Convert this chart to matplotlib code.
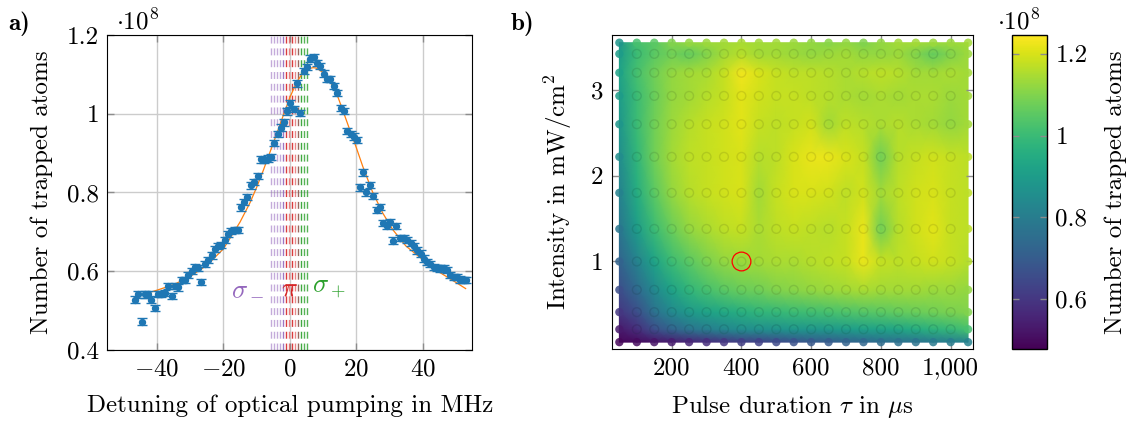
import numpy as np
import matplotlib
matplotlib.use('Agg')
import matplotlib.pyplot as plt

plt.rcParams['font.family'] = ['cmr10', 'DejaVu Serif']
plt.rcParams['mathtext.fontset'] = 'cm'
plt.rcParams['axes.formatter.use_mathtext'] = True
plt.rcParams['font.size'] = 18
plt.rcParams['axes.unicode_minus'] = True

# --- panel a) data: detuning scan ---
detuning = [-46.7, -45.7, -44.7, -43.7, -42.7, -41.7, -40.7, -39.7, -38.7, -37.6,
            -36.6, -35.6, -34.6, -33.6, -32.6, -31.6, -30.6, -29.6, -28.6, -27.6,
            -26.8, -25.6, -24.6, -23.6, -22.6, -21.6, -20.6, -19.6, -18.6, -17.6,
            -16.6, -15.7, -14.8, -13.8, -12.8, -11.7, -10.7, -9.7, -8.7, -7.7,
            -6.7, -5.7, -4.7, -3.7, -2.7, -1.8, -0.8, 0.2, 1.2, 2.2,
            3.2, 4.2, 5.1, 6.2, 7.2, 8.2, 9.2, 10.2, 11.2, 12.2,
            13.3, 14.3, 15.3, 16.3, 17.3, 18.3, 19.3, 20.2, 21.2, 22.1,
            23.1, 24.1, 25.1, 26.2, 27.1, 28.2, 29.3, 30.1, 31.1, 32.1,
            33.3, 34.3, 35.3, 36.4, 37.3, 38.3, 39.4, 40.4, 41.4, 42.4,
            43.4, 44.4, 45.4, 46.4, 47.4, 48.4, 49.4, 50.4, 51.4, 52.4, 53.2]
atoms = [0.528, 0.541, 0.472, 0.541, 0.541, 0.528, 0.507, 0.542, 0.543, 0.545,
         0.562, 0.537, 0.562, 0.559, 0.577, 0.577, 0.590, 0.601, 0.611, 0.608,
         0.573, 0.619, 0.628, 0.640, 0.657, 0.664, 0.667, 0.680, 0.695, 0.702,
         0.704, 0.705, 0.762, 0.776, 0.788, 0.818, 0.826, 0.842, 0.884, 0.883,
         0.886, 0.891, 0.926, 0.948, 0.965, 0.978, 1.006, 1.026, 1.012, 1.077,
         1.002, 1.109, 1.119, 1.140, 1.144, 1.129, 1.121, 1.102, 1.088, 1.088,
         1.071, 1.053, 1.014, 1.007, 0.957, 0.949, 0.942, 0.933, 0.813, 0.851,
         0.800, 0.819, 0.791, 0.756, 0.763, 0.722, 0.716, 0.725, 0.678, 0.714,
         0.685, 0.685, 0.680, 0.672, 0.663, 0.653, 0.645, 0.632, 0.624, 0.619,
         0.611, 0.609, 0.607, 0.607, 0.604, 0.590, 0.586, 0.586, 0.579, 0.577, 0.577]
atoms_err = 0.008

fit_x = [-43.5, -40, -35, -30, -25, -20, -15, -12, -10, -8, -6, -4, -2, 0, 2, 4, 6, 7, 8,
         10, 12, 14, 16, 18, 20, 22, 25, 28, 31, 35, 40, 45, 50, 53]
fit_y = [0.543, 0.552, 0.566, 0.587, 0.615, 0.657, 0.725, 0.774, 0.813, 0.856, 0.902,
         0.948, 0.995, 1.041, 1.079, 1.105, 1.115, 1.117, 1.116, 1.105, 1.084, 1.054,
         1.008, 0.961, 0.915, 0.866, 0.800, 0.748, 0.706, 0.664, 0.630, 0.598, 0.572, 0.556]

# transition lines (MHz), colour and strength
trans_x = [-5.8, -4.9, -4.0, -3.1, -2.1, -1.2, -0.3, 0.7, 1.6, 2.5, 3.4, 4.4, 5.3]
trans_col = ['#9467bd'] * 5 + ['#d62728'] * 4 + ['#8c564b'] + ['#2ca02c'] * 3
trans_alpha = [0.55, 0.55, 0.55, 0.55, 0.9, 0.9, 0.55, 0.9, 0.55, 0.9, 0.9, 0.8, 0.8]

# --- panel b) data: pulse duration / intensity grid ---
pulse = [50, 100, 150, 200, 250, 300, 350, 400, 450, 500, 550,
         600, 650, 700, 750, 800, 850, 900, 950, 1000, 1050]
intensity = [0.06, 0.21, 0.41, 0.67, 1.0, 1.38, 1.8, 2.22, 2.6, 2.93, 3.2, 3.42, 3.55]
trapped = [
    [0.49, 0.50, 0.52, 0.54, 0.56, 0.58, 0.60, 0.62, 0.63, 0.65, 0.67, 0.69, 0.70, 0.72, 0.73, 0.75, 0.76, 0.77, 0.79, 0.80, 0.82],
    [0.53, 0.58, 0.66, 0.72, 0.77, 0.80, 0.83, 0.85, 0.86, 0.87, 0.88, 0.88, 0.89, 0.90, 0.91, 0.92, 0.93, 0.95, 0.97, 0.99, 1.02],
    [0.60, 0.66, 0.76, 0.84, 0.89, 0.92, 0.94, 0.96, 0.98, 0.99, 1.00, 1.01, 1.02, 1.03, 1.04, 1.05, 1.06, 1.07, 1.08, 1.09, 1.10],
    [0.66, 0.74, 0.84, 0.92, 0.98, 1.02, 1.05, 1.07, 1.08, 1.10, 1.11, 1.12, 1.13, 1.14, 1.15, 1.14, 1.14, 1.14, 1.13, 1.13, 1.12],
    [0.72, 0.82, 0.92, 1.00, 1.05, 1.09, 1.12, 1.13, 1.14, 1.15, 1.15, 1.16, 1.17, 1.18, 1.22, 1.18, 1.17, 1.18, 1.19, 1.18, 1.16],
    [0.78, 0.90, 1.00, 1.07, 1.12, 1.15, 1.17, 1.18, 1.15, 1.17, 1.18, 1.17, 1.16, 1.18, 1.22, 1.08, 1.16, 1.19, 1.21, 1.18, 1.17],
    [0.82, 0.95, 1.05, 1.12, 1.16, 1.18, 1.19, 1.20, 1.14, 1.18, 1.20, 1.20, 1.19, 1.17, 1.19, 1.14, 1.17, 1.19, 1.20, 1.18, 1.17],
    [0.85, 0.98, 1.08, 1.14, 1.17, 1.18, 1.19, 1.20, 1.16, 1.17, 1.20, 1.22, 1.22, 1.20, 1.18, 1.08, 1.16, 1.18, 1.19, 1.18, 1.17],
    [0.88, 1.00, 1.08, 1.13, 1.16, 1.18, 1.19, 1.21, 1.18, 1.17, 1.18, 1.19, 1.14, 1.17, 1.16, 1.15, 1.16, 1.15, 1.14, 1.12, 1.14],
    [0.90, 1.00, 1.07, 1.12, 1.14, 1.16, 1.18, 1.21, 1.19, 1.18, 1.18, 1.17, 1.16, 1.15, 1.14, 1.15, 1.14, 1.15, 1.15, 1.13, 1.14],
    [0.92, 1.02, 1.08, 1.12, 1.14, 1.15, 1.18, 1.23, 1.20, 1.18, 1.17, 1.17, 1.16, 1.15, 1.16, 1.17, 1.16, 1.14, 1.14, 1.15, 1.14],
    [0.90, 1.00, 1.05, 1.08, 1.06, 1.10, 1.14, 1.16, 1.14, 1.14, 1.13, 1.12, 1.13, 1.14, 1.12, 1.12, 1.13, 1.10, 1.06, 1.10, 1.13],
    [0.88, 1.02, 1.05, 1.10, 1.12, 1.13, 1.14, 1.15, 1.14, 1.14, 1.13, 1.12, 1.11, 1.12, 1.10, 1.12, 1.14, 1.14, 1.13, 1.13, 1.14],
]
chosen_pulse = 400
chosen_intensity = 1.0
vmin, vmax = 0.478, 1.246

fig = plt.figure(figsize=(11.29, 4.23), dpi=100)
ax1 = fig.add_axes([0.0951, 0.1726, 0.3232, 0.7447])
ax2 = fig.add_axes([0.5418, 0.1749, 0.3200, 0.7424])
cax = fig.add_axes([0.8964, 0.1749, 0.0310, 0.7424])

tick_kw = dict(direction='in', top=True, right=True, color='#8c8c8c', length=5, width=1)

# ---------- a) ----------
for xv, c, a in zip(trans_x, trans_col, trans_alpha):
    ax1.axvline(xv, color=c, alpha=a, lw=1.0, dashes=(5, 3.5), zorder=1)
ax1.plot(fit_x, fit_y, color='#ff7f0e', lw=0.9, zorder=3)
ax1.errorbar(detuning, atoms, yerr=atoms_err, fmt='o', ms=4.3, color='#1f77b4',
             ecolor='#1f77b4', elinewidth=1, capsize=3.6, capthick=1, zorder=4)
ax1.text(-12.6, 0.557, r'$\sigma_-$', color='#9467bd', fontsize=19, ha='center', va='center')
ax1.text(0, 0.557, r'$\pi$', color='#d62728', fontsize=19, ha='center', va='center')
ax1.text(11.8, 0.557, r'$\sigma_+$', color='#2ca02c', fontsize=19, ha='center', va='center')

ax1.set_xlim(-55, 55)
ax1.set_ylim(0.4, 1.2)
ax1.set_xticks([-40, -20, 0, 20, 40])
ax1.set_xticklabels([r'$-40$', r'$-20$', r'$0$', r'$20$', r'$40$'])
ax1.set_yticks([0.4, 0.6, 0.8, 1.0, 1.2])
ax1.set_yticklabels(['0.4', '0.6', '0.8', '1', '1.2'])
ax1.grid(True, color='#cccccc', lw=1)
ax1.set_axisbelow(True)
ax1.tick_params(**tick_kw)
ax1.tick_params(axis='both', labelcolor='black', pad=6)
ax1.set_xlabel('Detuning of optical pumping in MHz', labelpad=10)
ax1.set_ylabel('Number of trapped atoms', labelpad=10)
fig.text(0.103, 0.93, r'$\cdot 10^8$', fontsize=18)
fig.text(0.007, 0.93, 'a)', fontsize=18, family='cmb10')

# ---------- b) ----------
PX, PY = np.meshgrid(pulse, intensity)
Z = np.array(trapped)
mesh = ax2.pcolormesh(PX, PY, Z, shading='gouraud', cmap='viridis', vmin=vmin, vmax=vmax, zorder=1)
cmap = plt.get_cmap('viridis')
norm = plt.Normalize(vmin, vmax)
border = (PX == pulse[0]) | (PX == pulse[-1]) | (PY == intensity[0]) | (PY == intensity[-1])
cols = cmap(norm(Z))
ax2.scatter(PX[border], PY[border], s=36, c=cols[border], alpha=0.85, lw=0, zorder=3)
edge = cols[~border].copy()
edge[:, :3] *= 0.75
edge[:, 3] = 0.4
ax2.scatter(PX[~border], PY[~border], s=40, facecolors='none', edgecolors=edge, lw=1, zorder=3)
ax2.plot(chosen_pulse, chosen_intensity, 'o', mfc='none', mec='red', ms=13.5, mew=0.9, zorder=4)

ax2.set_xlim(28, 1064)
ax2.set_ylim(-0.02, 3.64)
ax2.set_xticks([200, 400, 600, 800, 1000])
ax2.set_xticklabels(['200', '400', '600', '800', '1,000'])
ax2.set_yticks([1, 2, 3])
ax2.set_yticklabels(['1', '2', '3'])
ax2.tick_params(**tick_kw)
ax2.tick_params(axis='both', pad=6)
ax2.set_xlabel(r'Pulse duration $\tau$ in $\mu$s', labelpad=10)
ax2.set_ylabel(r'Intensity in mW$/$cm$^2$', labelpad=12)
fig.text(0.452, 0.93, 'b)', fontsize=18, family='cmb10')

cb = fig.colorbar(mesh, cax=cax)
cb.set_ticks([0.6, 0.8, 1.0, 1.2])
cb.set_ticklabels(['0.6', '0.8', '1', '1.2'])
cax.tick_params(direction='in', left=True, right=True, color='#8c8c8c', length=5, width=1, pad=6)
cb.outline.set_linewidth(1)
cb.set_label('Number of trapped atoms', labelpad=12)
fig.text(0.883, 0.93, r'$\cdot 10^8$', fontsize=18)

fig.savefig('out.png', dpi=100)
